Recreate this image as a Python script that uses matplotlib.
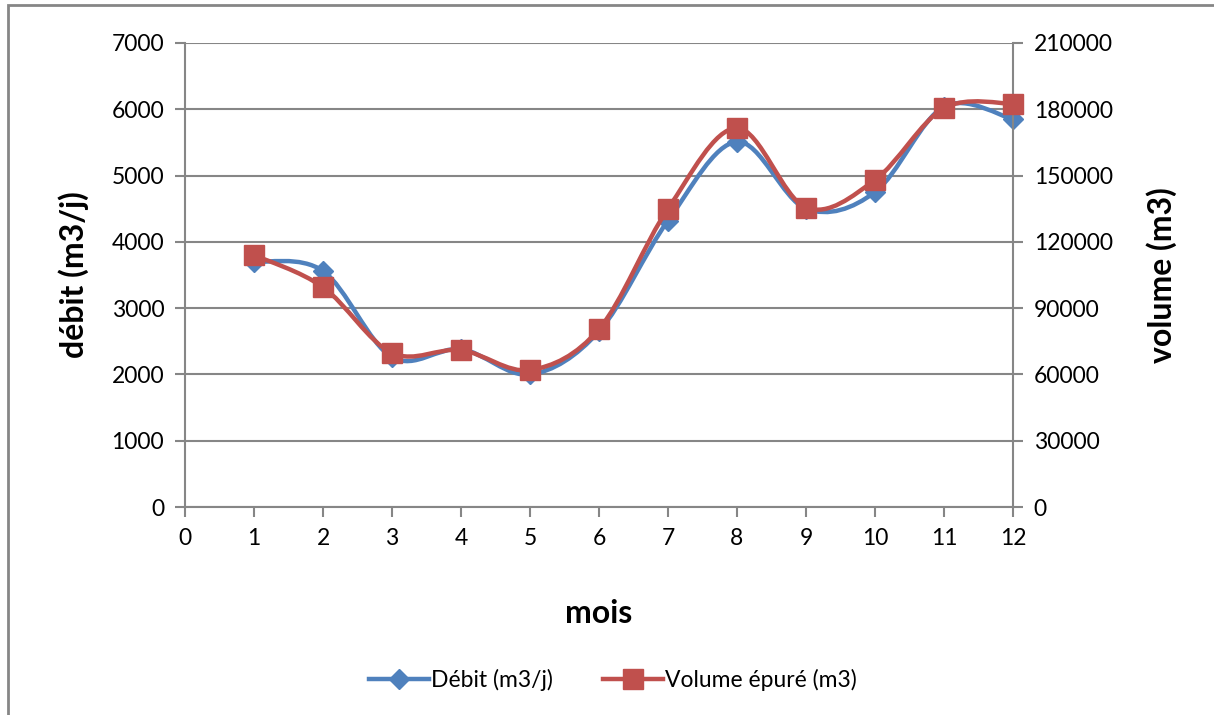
import matplotlib.pyplot as plt
from matplotlib.path import Path
from matplotlib.patches import PathPatch, Rectangle
from matplotlib.lines import Line2D
import numpy as np

plt.rcParams['font.family'] = ['Lato', 'DejaVu Sans']

mois = [1, 2, 3, 4, 5, 6, 7, 8, 9, 10, 11, 12]
debit = [3700, 3560, 2260, 2380, 2000, 2650, 4320, 5510, 4500, 4750, 6040, 5850]
volume = [114000, 99500, 69700, 71000, 62000, 80500, 135000, 171500, 135500, 148000, 180500, 182500]

bleu = '#4F81BD'
rouge = '#C0504D'
gris = '#868686'


def courbe_lissee(x, y):
    # lissage type Excel : segments de Bezier (Catmull-Rom)
    pts = np.column_stack([x, y]).astype(float)
    sommets = [pts[0]]
    codes = [Path.MOVETO]
    n = len(pts)
    for i in range(n - 1):
        p0 = pts[i - 1] if i > 0 else pts[i]
        p1, p2 = pts[i], pts[i + 1]
        p3 = pts[i + 2] if i + 2 < n else pts[i + 1]
        sommets += [p1 + (p2 - p0) / 6, p2 - (p3 - p1) / 6, p2]
        codes += [Path.CURVE4] * 3
    return Path(sommets, codes)


fig = plt.figure(figsize=(12.14, 7.15), dpi=100)
ax = fig.add_axes([0.1524, 0.2909, 0.682, 0.649])
ax2 = ax.twinx()

ax.add_patch(PathPatch(courbe_lissee(mois, debit), fill=False, edgecolor=bleu, lw=3.2, capstyle='round', joinstyle='round'))
ax.plot(mois, debit, linestyle='none', marker='D', color=bleu, markersize=10, clip_on=False, zorder=3)

ax2.add_patch(PathPatch(courbe_lissee(mois, volume), fill=False, edgecolor=rouge, lw=3.2, capstyle='round', joinstyle='round'))
ax2.plot(mois, volume, linestyle='none', marker='s', color=rouge, markersize=14, clip_on=False, zorder=3)

ax.set_xlim(0, 12)
ax.set_ylim(0, 7000)
ax2.set_ylim(0, 210000)
ax.set_xticks(range(0, 13))
ax.set_yticks(range(0, 7001, 1000))
ax2.set_yticks(range(0, 210001, 30000))

ax.yaxis.grid(True, color=gris, lw=1.5)
ax.set_axisbelow(True)

for a in (ax, ax2):
    a.spines['top'].set_visible(False)
    a.spines['left'].set_visible(a is ax)
    a.spines['bottom'].set_visible(a is ax)
    a.spines['right'].set_visible(a is ax2)
    for s in a.spines.values():
        s.set_color(gris)
        s.set_linewidth(1.5)
    a.tick_params(colors=gris, labelcolor='black', labelsize=16.5, width=1.5, length=7, pad=8)

ax.set_ylabel('débit (m3/j)', fontsize=23, fontweight='bold', labelpad=16)
ax2.set_ylabel('volume (m3)', fontsize=23, fontweight='bold', labelpad=24)
ax.set_xlabel('mois', fontsize=23, fontweight='bold', labelpad=36)

poignees = [Line2D([], [], color=bleu, lw=3.2, marker='D', markersize=10),
            Line2D([], [], color=rouge, lw=3.2, marker='s', markersize=14)]
fig.legend(poignees, ['Débit (m3/j)', 'Volume épuré (m3)'], loc='center', bbox_to_anchor=(0.505, 0.049),
           ncol=2, frameon=False, fontsize=16.5, handlelength=2.6, handletextpad=0.1, columnspacing=2.2)

fig.patches.append(Rectangle((0.0066, -0.1), 1.2, 1.093, transform=fig.transFigure, fill=False, edgecolor=gris, lw=2))

fig.savefig('out.png', dpi=100)
